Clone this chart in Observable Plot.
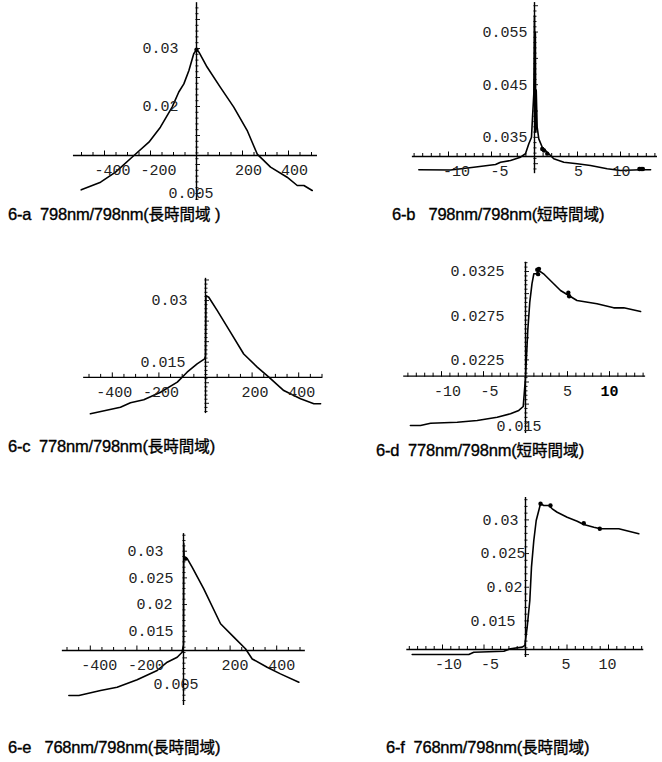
<!DOCTYPE html>
<html>
<head>
<meta charset="utf-8">
<script src="https://cdn.jsdelivr.net/npm/d3@7"></script>
<script src="https://cdn.jsdelivr.net/npm/@observablehq/plot@0.6"></script>
<style>
  body { margin: 0; background: #fff; }
  #page { position: relative; width: 662px; height: 762px; background: #fff; overflow: hidden; }
  .panel { position: absolute; }
  .cap { position: absolute; white-space: pre; font-family: "Liberation Sans Narrow", "Liberation Sans", "Noto Sans CJK TC", sans-serif; font-size: 16.5px; color: #000; line-height: 1; -webkit-text-stroke: 0.35px #000; letter-spacing: -0.2px; }
  .cap .cjk { font-family: "Noto Sans CJK TC", sans-serif; font-size: 15.5px; letter-spacing: 0; }
</style>
</head>
<body>
<div id="page"></div>
<script>
// ---------------- data ----------------
// 6-a 798nm/798nm (long time range)
const aX = [-501,-417,-352,-272,-207,-157,-106,-77,-55,-33,-12,0,10,46,104,162,220,264,322,394,438,467,503];
const aY = [0.00563,0.00695,0.00868,0.01155,0.01385,0.01644,0.0199,0.0225,0.0239,0.0262,0.0291,0.0298,0.0294,0.0268,0.0233,0.0199,0.0159,0.0118,0.00954,0.00781,0.00638,0.00638,0.00552];
const aDotX = [0];
const aDotY = [0.0298];
const aXTicks = [-400,-200,200,400];
const aYTicks = [0.03,0.02,0.005];

// 6-b 798nm/798nm (short time range)
const bX = [-13.45,-9.77,-7.06,-4.53,-3.95,-2.79,-1.63,-1.05,-0.66,-0.35,-0.23,-0.08,-0.03,0.0,0.05,0.1,0.15,0.2,0.31,0.5,0.9,1.48,2.24,3.41,4.97,6.51,8.45,10,12.3,13.5];
const bY = [0.02884,0.0288,0.02933,0.02984,0.03028,0.0306,0.03123,0.03188,0.03378,0.03503,0.03883,0.04327,0.052,0.0581,0.041,0.055,0.036,0.044,0.03693,0.03472,0.03313,0.03218,0.03093,0.03028,0.02998,0.02965,0.02903,0.0287,0.02884,0.02884];
const bDotX = [0.9,1.1,1.48,12.2,12.4,12.6];
const bDotY = [0.0328,0.0325,0.0319,0.0290,0.0290,0.0290];
const bXTicks = [-10,-5,5,10];
const bYTicks = [0.055,0.045,0.035];

// 6-c 778nm/798nm (long time range)
const cX = [-494,-365,-322,-265,-193,-121,-79,-36,-4,0,2,14,50,107,164,222,272,336,408,465,494];
const cY = [0.00245,0.00405,0.00512,0.00585,0.0077,0.01014,0.01257,0.0146,0.0158,0.0165,0.0312,0.0308,0.0276,0.0223,0.0170,0.0138,0.01135,0.0081,0.0061,0.0049,0.0049];
const cDotX = [];
const cDotY = [];
const cXTicks = [-400,-200,200,400];
const cYTicks = [0.03,0.015];

// 6-d 778nm/798nm (short time range)
const dX = [-13.7,-12.5,-11.3,-8.13,-5.75,-3.37,-1.79,-0.80,-0.27,0,0.27,0.51,0.77,0.99,1.31,1.58,2.15,4.17,5.15,6.13,8.51,10.5,11.7,13.7];
const dY = [0.01508,0.01508,0.01534,0.01545,0.01564,0.01602,0.0164,0.01678,0.01723,0.02054,0.02583,0.02903,0.03111,0.03224,0.03224,0.03261,0.03224,0.03035,0.02979,0.02922,0.02885,0.02839,0.02839,0.02797];
const dDotX = [1.4,1.5,1.6,5.1,5.2];
const dDotY = [0.0327,0.0322,0.0328,0.0301,0.0297];
const dXTicks = [-10,-5,5,10];
const dYTicks = [0.0325,0.0275,0.0225,0.015];

// 6-e 768nm/798nm (long time range)
const eX = [-492,-449,-356,-285,-199,-113,-70,-27,-6,0,1,3,8,16,37,87,159,216,266,295,359,416,495];
const eY = [0.00294,0.00294,0.00388,0.0045,0.00589,0.00763,0.00919,0.01012,0.01106,0.0125,0.0315,0.0288,0.0286,0.0286,0.027,0.02295,0.0164,0.0139,0.0117,0.0098,0.00825,0.0070,0.00544];
const eDotX = [8];
const eDotY = [0.0286];
const eXTicks = [-400,-200,200,400];
const eYTicks = [0.03,0.025,0.02,0.015,0.005];

// 6-f 768nm/798nm (long time range)
const fX = [-13.65,-6.83,-6.23,-2.61,-1.81,-0.40,-0.08,0.2,0.52,0.72,1.0,1.29,1.6,1.81,2.2,2.81,3.22,3.82,5.02,6.23,7.02,8.23,9.04,11.24,13.65];
const fY = [0.01001,0.01001,0.01035,0.0105,0.01086,0.0111,0.01135,0.01406,0.01803,0.02298,0.02694,0.02991,0.0314,0.03239,0.03214,0.03214,0.03165,0.03114,0.0304,0.02981,0.02932,0.02892,0.02868,0.02868,0.02794];
const fDotX = [1.81,3.01,7.02,8.95];
const fDotY = [0.03239,0.03214,0.0295,0.02868];
const fXTicks = [-10,-5,5,10];
const fYTicks = [0.03,0.025,0.02,0.015];

// axes origins / extents (chart values)
const axisOriginY = {a: 0.01155, b: 0.03136, c: 0.0113, d: 0.02066, e: 0.01138, f: 0.01075};
const axisXRange = {a: [-535,526], b: [-14.2,14.3], c: [-523,502], d: [-14.5,14.3], e: [-520,523], f: [-14.3,14.25]};
const axisYRange = {a: [0.0038,0.0379], b: [0.0281,0.0606], c: [0.0025,0.0354], d: [0.01417,0.03355], e: [0.00107,0.0333], f: [0.00956,0.03333]};

const captions = [
  {t: "6-a  798nm/798nm(", c: "長時間域", e: " )"},
  {t: "6-b   798nm/798nm(", c: "短時間域", e: ")"},
  {t: "6-c  778nm/798nm(", c: "長時間域", e: ")"},
  {t: "6-d  778nm/798nm(", c: "短時間域", e: ")"},
  {t: "6-e   768nm/798nm(", c: "長時間域", e: ")"},
  {t: "6-f  768nm/798nm(", c: "長時間域", e: ")"}
];

// ---------------- layout (pixels) ----------------
const layout = {
  a: {box: [55, 0, 275, 205], x0px: 196, kx: 0.23, yRefVal: 0.02, yRefPx: 106, ky: 5800, xStep: 50, xMajor: 200, yStep: 0.001, yMajor: 0.005,
      xdxPos: 6, xdxNeg: 8, ylab: {0.03: [-18,"end"], 0.02: [-18,"end"], 0.005: [-28,"start"]}},
  b: {box: [400, 0, 262, 200], x0px: 534, kx: 8.6, yRefVal: 0.045, yRefPx: 84.2, ky: 5265, xStep: 1, xMajor: 5, yStep: 0.001, yMajor: 0.005,
      xdxPos: 1, xdxNeg: 8, ylab: {0.055: [-7,"end"], 0.045: [-7,"end"], 0.035: [-7,"end"]}},
  c: {box: [55, 262, 275, 160], x0px: 205, kx: 0.233, yRefVal: 0.015, yRefPx: 361.7, ky: 4111, xStep: 50, xMajor: 200, yStep: 0.001, yMajor: 0.005,
      xdxPos: 3, xdxNeg: 2, ylab: {0.03: [-18,"end"], 0.015: [-20,"end"]}},
  d: {box: [380, 250, 282, 190], x0px: 525, kx: 8.4, yRefVal: 0.0275, yRefPx: 315.2, ky: 8840, xStep: 1, xMajor: 5, yStep: 0.0005, yMajor: 0.0025,
      xdxPos: 0, xdxNeg: 6, ylab: {0.0325: [-21,"end"], 0.0275: [-21,"end"], 0.0225: [-21,"end"], 0.015: [-29,"start"]}},
  e: {box: [45, 525, 285, 185], x0px: 183, kx: 0.233, yRefVal: 0.015, yRefPx: 630.7, ky: 5333, xStep: 50, xMajor: 200, yStep: 0.001, yMajor: 0.005,
      xdxPos: 5, xdxNeg: 9, ylab: {0.03: [-20,"end"], 0.025: [-10,"end"], 0.02: [-11,"end"], 0.015: [-10,"end"], 0.005: [-30,"start"]}},
  f: {box: [380, 490, 282, 175], x0px: 525, kx: 8.3, yRefVal: 0.0225, yRefPx: 569.9, ky: 6733, xStep: 1, xMajor: 5, yStep: 0.001, yMajor: 0.005,
      xdxPos: -1, xdxNeg: 6, ylab: {0.03: [-7,"end"], 0.025: [0,"end"], 0.02: [-3,"end"], 0.015: [-10,"end"]}}
};
const capPos = [[8, 206], [392, 206], [8, 438], [376, 442], [8, 739], [386, 739]];

const series = {
  a: [aX, aY, aDotX, aDotY, aXTicks, aYTicks],
  b: [bX, bY, bDotX, bDotY, bXTicks, bYTicks],
  c: [cX, cY, cDotX, cDotY, cXTicks, cYTicks],
  d: [dX, dY, dDotX, dDotY, dXTicks, dYTicks],
  e: [eX, eY, eDotX, eDotY, eXTicks, eYTicks],
  f: [fX, fY, fDotX, fDotY, fXTicks, fYTicks]
};
const boldXLabels = {d: [10]};

const page = document.getElementById("page");
const MONO = "Liberation Mono, Courier New, monospace";

for (const key of Object.keys(layout)) {
  const L = layout[key];
  const [xs, ys, dxs, dys, xt, yt] = series[key];
  const [left, top, W, H] = L.box;
  const x0 = L.x0px - left;
  const xDom = [(0 - x0) / L.kx, (W - x0) / L.kx];
  const yr = L.yRefPx - top;
  const yDom = [L.yRefVal - (H - yr) / L.ky, L.yRefVal + yr / L.ky];
  const oy = axisOriginY[key];
  const [xa0, xa1] = axisXRange[key];
  const [ya0, ya1] = axisYRange[key];

  const curve = xs.map((x, i) => ({x, y: ys[i]}));
  const dots = dxs.map((x, i) => ({x, y: dys[i]}));

  const xTickVals = [];
  for (let v = Math.ceil(xa0 / L.xStep) * L.xStep; v <= xa1; v += L.xStep) {
    const r = Math.round(v / L.xStep) * L.xStep;
    if (Math.abs(r) > 1e-9) xTickVals.push(r);
  }
  const isMajX = v => Math.abs(v / L.xMajor - Math.round(v / L.xMajor)) < 1e-6;
  const yTickVals = [];
  for (let v = Math.ceil(ya0 / L.yStep) * L.yStep; v <= ya1; v += L.yStep) yTickVals.push(+v.toFixed(6));
  const isMajY = v => Math.abs(v / L.yMajor - Math.round(v / L.yMajor)) < 1e-6;

  const bold = boldXLabels[key] || [];
  const fmtX = v => (v < 0 ? "-" : "") + Math.abs(v);
  const xLabNeg = xt.filter(v => v < 0);
  const xLabPos = xt.filter(v => v > 0 && !bold.includes(v));
  const xLabBold = xt.filter(v => bold.includes(v));

  const marks = [
    // x axis line and ticks
    Plot.ruleY([oy], {x1: xa0, x2: xa1, stroke: "#000", strokeWidth: 1.4}),
    Plot.ruleX(xTickVals, {x: d => d, y1: d => oy - 1 / L.ky, y2: d => oy + (isMajX(d) ? 4.5 : 3) / L.ky, stroke: "#000", strokeWidth: 1}),
    // y axis line and ticks
    Plot.ruleX([0], {y1: ya0, y2: ya1, stroke: "#000", strokeWidth: 1.4}),
    Plot.ruleY(yTickVals, {y: d => d, x1: d => -0.6 / L.kx, x2: d => (isMajY(d) ? 4 : 2.5) / L.kx, stroke: "#000", strokeWidth: 0.9}),
    // data curve
    Plot.line(curve, {x: "x", y: "y", stroke: "#000", strokeWidth: 1.6, curve: "linear"}),
    Plot.dot(dots, {x: "x", y: "y", r: 2.2, fill: "#000", stroke: "none"}),
    // x tick labels
    Plot.text(xLabNeg, {x: d => d, y: () => oy, text: fmtX, dy: 15, dx: L.xdxNeg,
      textAnchor: "middle", fontFamily: MONO, fontSize: 15, fill: "#222"}),
    Plot.text(xLabPos, {x: d => d, y: () => oy, text: fmtX, dy: 15, dx: L.xdxPos,
      textAnchor: "middle", fontFamily: MONO, fontSize: 15, fill: "#222"}),
    Plot.text(xLabBold, {x: d => d, y: () => oy, text: fmtX, dy: 15, dx: L.xdxPos,
      textAnchor: "middle", fontFamily: MONO, fontSize: 15, fontWeight: "bold", fill: "#000"}),
    // y tick labels
    ...yt.map(v => Plot.text([v], {x: 0, y: d => d, text: d => String(d), dx: L.ylab[v][0],
      textAnchor: L.ylab[v][1], fontFamily: MONO, fontSize: 15, fill: "#222"}))
  ];

  const svg = Plot.plot({
    width: W, height: H,
    marginTop: 0, marginRight: 0, marginBottom: 0, marginLeft: 0,
    x: {domain: xDom, axis: null},
    y: {domain: yDom, axis: null},
    style: {background: "transparent", overflow: "visible"},
    marks
  });
  const div = document.createElement("div");
  div.className = "panel";
  div.style.left = left + "px";
  div.style.top = top + "px";
  div.appendChild(svg);
  page.appendChild(div);
}

captions.forEach((c, i) => {
  const d = document.createElement("div");
  d.className = "cap";
  d.style.left = capPos[i][0] + "px";
  d.style.top = capPos[i][1] + "px";
  d.appendChild(document.createTextNode(c.t));
  const s = document.createElement("span");
  s.className = "cjk";
  s.textContent = c.c;
  d.appendChild(s);
  d.appendChild(document.createTextNode(c.e));
  page.appendChild(d);
});
</script>
</body>
</html>
